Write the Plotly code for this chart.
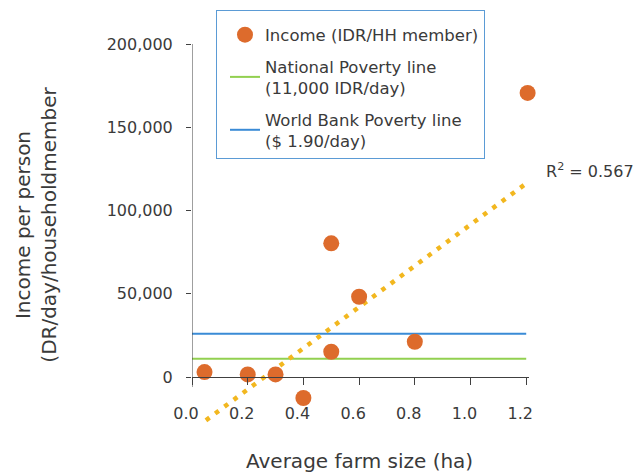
import plotly.graph_objects as go

# ---- data ----
farm_size = [0.045, 0.20, 0.30, 0.40, 0.50, 0.50, 0.60, 0.80, 1.205]
income = [3000, 1600, 1600, -12600, 80300, 15200, 48200, 21200, 170600]

poverty_x = [0.0, 1.2]
national_poverty = [11000, 11000]
world_bank_poverty = [26000, 26000]

trend_x = [0.05, 1.21]
trend_y = [-26000, 117500]

x_ticks = [0.0, 0.2, 0.4, 0.6, 0.8, 1.0, 1.2]
y_ticks = [0, 50000, 100000, 150000, 200000]

r2_label = "R<sup>2</sup> = 0.567"

# ---- styling ----
FONT = "DejaVu Sans, Verdana, sans-serif"
TXT = "#3a3a3a"
ORANGE = "#DD6B2C"
GREEN = "#92D050"
BLUE = "#3A8BD6"
GOLD = "#F2B71F"

Y_MIN, Y_MAX = -30000, 200000
X_MIN, X_MAX = 0.0, 1.21

fig = go.Figure()

fig.add_trace(go.Scatter(
    x=poverty_x, y=national_poverty, mode="lines",
    name="National Poverty line<br>(11,000 IDR/day)", legendgroup="b",
    line=dict(color=GREEN, width=2), legendrank=2,
))
fig.add_trace(go.Scatter(
    x=poverty_x, y=world_bank_poverty, mode="lines",
    name="World Bank Poverty line<br>($ 1.90/day)", legendgroup="c",
    line=dict(color=BLUE, width=2), legendrank=3,
))
fig.add_trace(go.Scatter(
    x=trend_x, y=trend_y, mode="lines", showlegend=False,
    line=dict(color=GOLD, width=4.5, dash="4.5px,7px"), hoverinfo="skip",
))
fig.add_trace(go.Scatter(
    x=farm_size, y=income, mode="markers",
    name="Income (IDR/HH member)", legendgroup="a",
    marker=dict(color=ORANGE, size=16), cliponaxis=False, legendrank=1,
))

p0 = (0 - Y_MIN) / (Y_MAX - Y_MIN)

fig.update_layout(
    width=643, height=475,
    margin=dict(l=192, r=114, t=44, b=48, autoexpand=False),
    paper_bgcolor="white", plot_bgcolor="white",
    font=dict(family=FONT, size=16, color=TXT),
    legend=dict(
        x=0.0712, y=1.0888, xanchor="left", yanchor="top",
        bgcolor="white", bordercolor="#5B9BD5", borderwidth=1,
        font=dict(family=FONT, size=16.5, color=TXT),
        traceorder="grouped", tracegroupgap=7, indentation=8,
        title=dict(text="&nbsp;", font=dict(size=5)),
    ),
    xaxis=dict(
        range=[X_MIN, X_MAX], tickvals=x_ticks, tickformat=".1f",
        showgrid=False, zeroline=False, showline=True,
        linecolor="#404040", linewidth=1,
        ticks="outside", ticklen=7, tickcolor="#404040",
        anchor="free", position=p0,
        ticklabelstandoff=15, ticklabelshift=-6,
        tickfont=dict(family=FONT, size=16, color=TXT),
    ),
    yaxis=dict(
        range=[Y_MIN, Y_MAX], tickvals=y_ticks, tickformat=",d",
        showgrid=False, zeroline=False, showline=False,
        ticks="outside", ticklen=5, tickcolor="#404040",
        ticklabelstandoff=10,
        tickfont=dict(family=FONT, size=16, color=TXT),
    ),
    shapes=[dict(
        type="line", xref="x", yref="y",
        x0=X_MIN, x1=X_MIN, y0=-6000, y1=Y_MAX,
        line=dict(color="#404040", width=1),
    )],
    annotations=[
        dict(text=r2_label, xref="paper", yref="paper", x=1.0454, y=0.6692,
             xanchor="left", yanchor="middle", showarrow=False,
             font=dict(family=FONT, size=16, color=TXT)),
        dict(text="Average farm size (ha)", xref="paper", yref="paper",
             x=0.4985, y=-0.090, xanchor="center", yanchor="middle",
             showarrow=False, font=dict(family=FONT, size=20, color=TXT)),
        dict(text="Income per person<br>(DR/day/householdmember",
             xref="paper", yref="paper", x=-0.4614, y=0.527,
             xanchor="center", yanchor="middle", textangle=-90,
             showarrow=False, font=dict(family=FONT, size=20, color=TXT)),
    ],
)

fig.write_html("out.html", config={"displayModeBar": False},
               post_script="document.body.style.margin='0';")
